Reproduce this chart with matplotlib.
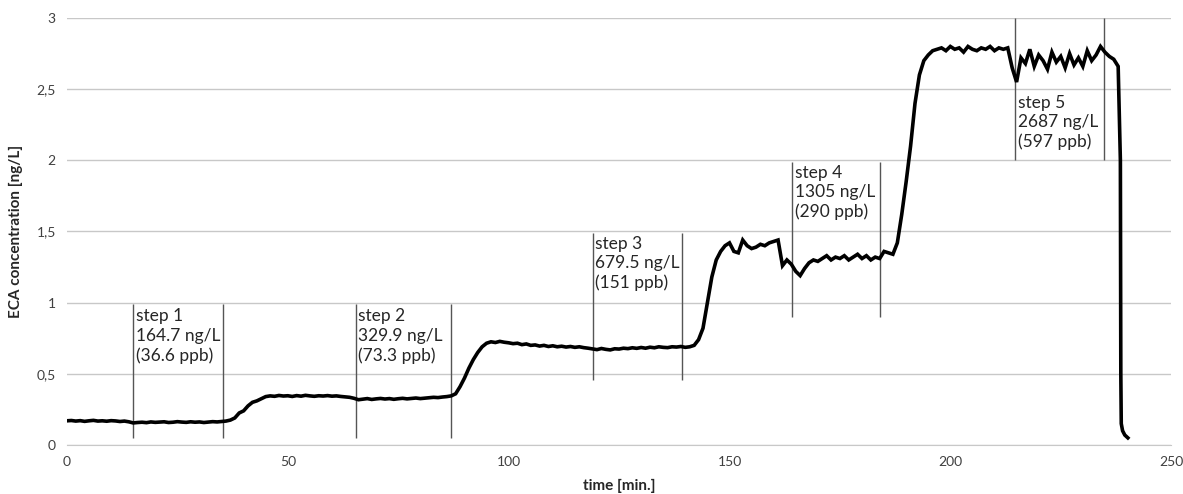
import numpy as np
import matplotlib
matplotlib.use("Agg")
import matplotlib.pyplot as plt
from matplotlib.ticker import FuncFormatter

# ECA concentration, one value per minute (0..238)
conc = [
    # 0-14
    0.17, 0.172, 0.168, 0.171, 0.166, 0.17, 0.173, 0.168, 0.17, 0.167, 0.171, 0.169, 0.165, 0.168, 0.163,
    # 15-34
    0.155, 0.158, 0.16, 0.157, 0.162, 0.159, 0.161, 0.163, 0.158, 0.16, 0.164, 0.161, 0.159, 0.163, 0.16,
    0.162, 0.158, 0.161, 0.164, 0.162,
    # 35-44
    0.165, 0.168, 0.175, 0.19, 0.225, 0.24, 0.275, 0.3, 0.31, 0.325,
    # 45-64
    0.34, 0.345, 0.342, 0.348, 0.344, 0.346, 0.341, 0.347, 0.343, 0.349, 0.345, 0.342, 0.346, 0.344, 0.347,
    0.343, 0.345, 0.341, 0.338, 0.335,
    # 65-86
    0.328, 0.318, 0.322, 0.326, 0.32, 0.324, 0.327, 0.323, 0.326, 0.321, 0.325, 0.328, 0.324, 0.327, 0.33,
    0.326, 0.329, 0.332, 0.335, 0.333, 0.337, 0.34,
    # 87-99
    0.345, 0.36, 0.41, 0.47, 0.54, 0.6, 0.65, 0.69, 0.715, 0.725, 0.72, 0.728, 0.722,
    # 100-118
    0.718, 0.712, 0.715, 0.705, 0.71, 0.7, 0.703, 0.695, 0.7, 0.692, 0.697, 0.69, 0.694, 0.688, 0.692,
    0.686, 0.69, 0.684, 0.68,
    # 119-142
    0.675, 0.67, 0.678, 0.672, 0.668, 0.676, 0.674, 0.68, 0.677, 0.683, 0.679, 0.685, 0.68, 0.687, 0.683,
    0.69, 0.686, 0.684, 0.69, 0.688, 0.692, 0.686, 0.69, 0.7,
    # 143-149
    0.74, 0.82, 1.0, 1.18, 1.3, 1.36, 1.4,
    # 150-161
    1.42, 1.36, 1.35, 1.44, 1.4, 1.38, 1.39, 1.41, 1.4, 1.42, 1.43, 1.44,
    # 162-187
    1.26, 1.3, 1.27, 1.22, 1.19, 1.24, 1.28, 1.3, 1.29, 1.31, 1.33, 1.3, 1.32, 1.31, 1.33, 1.3, 1.32,
    1.34, 1.31, 1.33, 1.3, 1.32, 1.31, 1.36, 1.35, 1.34,
    # 188-197
    1.42, 1.62, 1.85, 2.1, 2.4, 2.6, 2.7, 2.74, 2.77, 2.78,
    # 198-213
    2.79, 2.77, 2.8, 2.78, 2.79, 2.76, 2.8, 2.78, 2.77, 2.79, 2.78, 2.8, 2.77, 2.79, 2.78, 2.79,
    # 214-237
    2.65, 2.55, 2.72, 2.68, 2.78, 2.66, 2.74, 2.7, 2.64, 2.76, 2.69, 2.73, 2.65, 2.75, 2.67, 2.72,
    2.66, 2.77, 2.7, 2.74, 2.8, 2.76, 2.73, 2.71,
    # 238
    2.66,
]
time = list(range(len(conc)))

# the final drop after the last step
tail_time = [238.5, 238.6, 238.7, 239.0, 239.5, 240.2]
tail_conc = [2.0, 0.5, 0.15, 0.1, 0.07, 0.05]

# step markers: start, end, line bottom, line top, label top
step_start = [15, 65.4, 119, 164.2, 214.7]
step_end = [35.3, 87, 139.3, 184.1, 234.8]
line_bottom = [0.05, 0.05, 0.46, 0.9, 2.0]
line_top = [0.99, 0.99, 1.49, 1.99, 3.0]
label_top = [0.96, 0.96, 1.47, 1.97, 2.46]
step_labels = [
    "step 1\n164.7 ng/L\n(36.6 ppb)",
    "step 2\n329.9 ng/L\n(73.3 ppb)",
    "step 3\n679.5 ng/L\n(151 ppb)",
    "step 4\n1305 ng/L\n(290 ppb)",
    "step 5\n2687 ng/L\n(597 ppb)",
]

plt.rcParams['font.family'] = ['Lato', 'DejaVu Sans']

fig = plt.figure(figsize=(11.83, 4.94), dpi=100)
ax = fig.add_axes([0.0566, 0.0992, 0.9334, 0.8644])

ax.plot(time + tail_time, conc + tail_conc, color="black", lw=2.6, solid_joinstyle="miter", zorder=3)

ax.vlines(step_start, line_bottom, line_top, color="#555555", lw=1.0, zorder=2)
ax.vlines(step_end, line_bottom, line_top, color="#555555", lw=1.0, zorder=2)
for x, top, lab in zip(step_start, label_top, step_labels):
    ax.text(x + 0.6, top, lab, ha="left", va="top", fontsize=12.5,
            color="#262626", linespacing=1.25, zorder=4)

ax.set_xlim(0, 250)
ax.set_ylim(0, 3)
ax.set_xticks([0, 50, 100, 150, 200, 250])
ax.set_yticks([0, 0.5, 1, 1.5, 2, 2.5, 3])
ax.yaxis.set_major_formatter(FuncFormatter(lambda v, p: f"{v:g}".replace(".", ",")))
ax.tick_params(length=0, labelsize=10, colors="#404040", pad=8)
ax.grid(axis="y", color="#c8c8c8", lw=1.0, zorder=0)
ax.set_axisbelow(True)
for s in ["top", "right", "left"]:
    ax.spines[s].set_visible(False)
ax.spines["bottom"].set_color("#c8c8c8")

ax.set_ylabel("ECA concentration [ng/L]", fontsize=11, fontweight="bold", color="#262626", labelpad=10)
ax.set_xlabel("time [min.]", fontsize=11, fontweight="bold", color="#262626", labelpad=8)

fig.savefig("out.png", dpi=100)
